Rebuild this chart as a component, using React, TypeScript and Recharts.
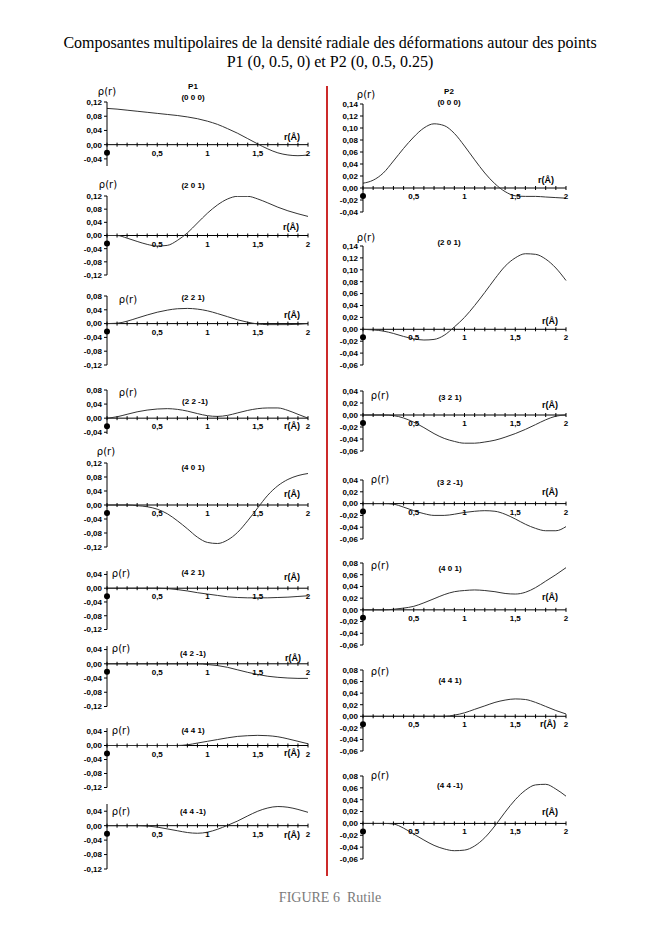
import React from "react";
import { LineChart, Line, XAxis, YAxis, ReferenceLine } from "recharts";

// r in Å, sampled every 0.1
const rValues = [0, 0.1, 0.2, 0.3, 0.4, 0.5, 0.6, 0.7, 0.8, 0.9, 1, 1.1, 1.2, 1.3, 1.4, 1.5, 1.6, 1.7, 1.8, 1.9, 2];
const xTicks = [0, 0.1, 0.2, 0.3, 0.4, 0.5, 0.6, 0.7, 0.8, 0.9, 1, 1.1, 1.2, 1.3, 1.4, 1.5, 1.6, 1.7, 1.8, 1.9, 2];
const xLabels = [0.5, 1, 1.5, 2];

// P1 components
const p1_000 = [0.102, 0.1, 0.097, 0.094, 0.091, 0.088, 0.085, 0.082, 0.078, 0.073, 0.066, 0.057, 0.045, 0.032, 0.017, 0.002, -0.012, -0.023, -0.029, -0.031, -0.029];
const p1_201 = [0, 0, -0.008, -0.018, -0.027, -0.032, -0.03, -0.015, 0.008, 0.038, 0.068, 0.093, 0.111, 0.119, 0.119, 0.111, 0.099, 0.086, 0.075, 0.066, 0.058];
const p1_221 = [0, 0.001, 0.007, 0.016, 0.025, 0.033, 0.039, 0.043, 0.044, 0.042, 0.037, 0.029, 0.02, 0.011, 0.004, -0.001, -0.003, -0.003, -0.003, -0.002, 0];
const p1_22m1 = [0, 0.004, 0.011, 0.018, 0.023, 0.026, 0.027, 0.025, 0.02, 0.013, 0.007, 0.005, 0.008, 0.015, 0.022, 0.027, 0.029, 0.029, 0.022, 0.011, 0];
const p1_401 = [0, 0, 0, -0.002, -0.005, -0.012, -0.025, -0.045, -0.068, -0.092, -0.107, -0.11, -0.1, -0.078, -0.045, -0.008, 0.028, 0.055, 0.073, 0.084, 0.09];
const p1_421 = [0, 0, 0, 0, 0, 0, -0.001, -0.004, -0.008, -0.013, -0.017, -0.021, -0.025, -0.027, -0.028, -0.028, -0.028, -0.027, -0.026, -0.024, -0.022];
const p1_42m1 = [0, 0, 0, 0, 0, 0, 0, 0, 0, 0, -0.002, -0.005, -0.01, -0.017, -0.024, -0.03, -0.035, -0.038, -0.04, -0.041, -0.041];
const p1_441 = [0, 0, 0, 0, 0, 0, 0, 0, 0.002, 0.007, 0.012, 0.017, 0.022, 0.026, 0.028, 0.029, 0.028, 0.025, 0.019, 0.012, 0.005];
const p1_44m1 = [0, 0, 0, 0, -0.001, -0.004, -0.009, -0.014, -0.019, -0.021, -0.018, -0.01, 0.001, 0.013, 0.027, 0.04, 0.049, 0.053, 0.051, 0.045, 0.037];

// P2 components
const p2_000 = [0.008, 0.013, 0.025, 0.045, 0.066, 0.085, 0.1, 0.107, 0.104, 0.091, 0.07, 0.047, 0.025, 0.007, -0.006, -0.013, -0.014, -0.014, -0.015, -0.016, -0.017];
const p2_201 = [0, -0.001, -0.003, -0.007, -0.012, -0.016, -0.018, -0.017, -0.01, 0.004, 0.02, 0.04, 0.062, 0.085, 0.106, 0.12, 0.127, 0.126, 0.118, 0.103, 0.082];
const p2_321 = [0, 0, 0, -0.001, -0.005, -0.012, -0.021, -0.031, -0.039, -0.044, -0.047, -0.047, -0.045, -0.042, -0.037, -0.031, -0.024, -0.016, -0.008, -0.002, 0];
const p2_32m1 = [0, 0, 0, -0.001, -0.006, -0.012, -0.017, -0.02, -0.02, -0.018, -0.015, -0.013, -0.012, -0.013, -0.018, -0.026, -0.035, -0.042, -0.046, -0.046, -0.039];
const p2_401 = [0, 0, 0, 0.001, 0.003, 0.006, 0.012, 0.019, 0.026, 0.031, 0.033, 0.034, 0.033, 0.031, 0.028, 0.027, 0.03, 0.038, 0.049, 0.06, 0.072];
const p2_441 = [0, 0, 0, 0, 0, 0, 0, 0, 0, 0.002, 0.006, 0.012, 0.018, 0.024, 0.028, 0.03, 0.029, 0.024, 0.017, 0.01, 0.004];
const p2_44m1 = [0, 0, 0, -0.001, -0.008, -0.018, -0.028, -0.037, -0.043, -0.046, -0.045, -0.038, -0.024, -0.004, 0.019, 0.04, 0.056, 0.065, 0.066, 0.058, 0.046];

// y tick sets
const ticksL1 = [-0.04, 0, 0.04, 0.08, 0.12];
const ticksL2 = [-0.12, -0.08, -0.04, 0, 0.04, 0.08, 0.12];
const ticksL3 = [-0.12, -0.08, -0.04, 0, 0.04, 0.08];
const ticksL4 = [-0.04, 0, 0.04, 0.08];
const ticksL6 = [-0.12, -0.08, -0.04, 0, 0.04];
const ticksR1 = [-0.04, -0.02, 0, 0.02, 0.04, 0.06, 0.08, 0.1, 0.12, 0.14];
const ticksR2 = [-0.06, -0.04, -0.02, 0, 0.02, 0.04, 0.06, 0.08, 0.1, 0.12, 0.14];
const ticksR3 = [-0.06, -0.04, -0.02, 0, 0.02, 0.04];
const ticksR5 = [-0.06, -0.04, -0.02, 0, 0.02, 0.04, 0.06, 0.08];

type PanelDef = {
  values: number[];
  ticks: number[];
  domain: [number, number];
  ax: number;
  top: number;
  bottom: number;
  plotW: number;
  title: string[];
  titlePos: [number, number];
  rhoPos: [number, number];
  rPos: [number, number];
};

const L = 107;
const R = 363;
const LW = 201;
const RW = 203;

const panels: PanelDef[] = [
  { values: p1_000, ticks: ticksL1, domain: [-0.06, 0.12], ax: L, top: 102, bottom: 166, plotW: LW, title: ["P1", "(0 0 0)"], titlePos: [193, 92], rhoPos: [107, 92], rPos: [292, 137] },
  { values: p1_201, ticks: ticksL2, domain: [-0.12, 0.12], ax: L, top: 196, bottom: 275, plotW: LW, title: ["(2 0 1)"], titlePos: [193, 186], rhoPos: [108, 185], rPos: [291, 227] },
  { values: p1_221, ticks: ticksL3, domain: [-0.12, 0.08], ax: L, top: 296, bottom: 365, plotW: LW, title: ["(2 2 1)"], titlePos: [193, 298], rhoPos: [128, 300], rPos: [292, 315] },
  { values: p1_22m1, ticks: ticksL4, domain: [-0.045, 0.08], ax: L, top: 390, bottom: 434, plotW: LW, title: ["(2 2 -1)"], titlePos: [195, 402], rhoPos: [128, 393], rPos: [292, 426] },
  { values: p1_401, ticks: ticksL2, domain: [-0.12, 0.12], ax: L, top: 463, bottom: 547, plotW: LW, title: ["(4 0 1)"], titlePos: [193, 468], rhoPos: [106, 452], rPos: [292, 494] },
  { values: p1_421, ticks: ticksL6, domain: [-0.12, 0.05], ax: L, top: 570.5, bottom: 629, plotW: LW, title: ["(4 2 1)"], titlePos: [193, 573], rhoPos: [121, 574], rPos: [292, 577] },
  { values: p1_42m1, ticks: ticksL6, domain: [-0.12, 0.05], ax: L, top: 645.5, bottom: 706, plotW: LW, title: ["(4 2 -1)"], titlePos: [193, 654], rhoPos: [121, 649], rPos: [293, 658] },
  { values: p1_441, ticks: ticksL6, domain: [-0.12, 0.05], ax: L, top: 727.5, bottom: 787, plotW: LW, title: ["(4 4 1)"], titlePos: [193, 731], rhoPos: [121, 731], rPos: [292, 753] },
  { values: p1_44m1, ticks: ticksL6, domain: [-0.12, 0.06], ax: L, top: 804, bottom: 869, plotW: LW, title: ["(4 4 -1)"], titlePos: [193, 812], rhoPos: [121, 812], rPos: [292, 835] },
  { values: p2_000, ticks: ticksR1, domain: [-0.04, 0.14], ax: R, top: 104, bottom: 212, plotW: RW, title: ["P2", "(0 0 0)"], titlePos: [449, 97], rhoPos: [366, 95], rPos: [546, 180] },
  { values: p2_201, ticks: ticksR2, domain: [-0.06, 0.14], ax: R, top: 246, bottom: 365, plotW: RW, title: ["(2 0 1)"], titlePos: [449, 243], rhoPos: [366, 238], rPos: [550, 321] },
  { values: p2_321, ticks: ticksR3, domain: [-0.06, 0.04], ax: R, top: 391, bottom: 451, plotW: RW, title: ["(3 2 1)"], titlePos: [450, 398], rhoPos: [380, 396], rPos: [550, 405] },
  { values: p2_32m1, ticks: ticksR3, domain: [-0.06, 0.04], ax: R, top: 480, bottom: 539, plotW: RW, title: ["(3 2 -1)"], titlePos: [450, 483], rhoPos: [380, 480], rPos: [550, 492] },
  { values: p2_401, ticks: ticksR5, domain: [-0.06, 0.08], ax: R, top: 563, bottom: 645, plotW: RW, title: ["(4 0 1)"], titlePos: [450, 569], rhoPos: [380, 566], rPos: [550, 597] },
  { values: p2_441, ticks: ticksR5, domain: [-0.06, 0.08], ax: R, top: 670, bottom: 751, plotW: RW, title: ["(4 4 1)"], titlePos: [450, 681], rhoPos: [380, 672], rPos: [548, 724] },
  { values: p2_44m1, ticks: ticksR5, domain: [-0.06, 0.08], ax: R, top: 776, bottom: 859, plotW: RW, title: ["(4 4 -1)"], titlePos: [450, 786], rhoPos: [380, 776], rPos: [550, 812] },
];

const SANS = "'Liberation Sans', Arial, sans-serif";
const SERIF = "'Liberation Serif', 'Times New Roman', serif";
const M_TOP = 6;
const M_BOT = 6;
const X_H = 10;
const Y_W = 40;
const M_RIGHT = 12;

const fmt = (v: number) => (Math.abs(v) < 1e-9 ? "0,00" : v.toFixed(2).replace(".", ","));

function Text({ x, y, children, style }: { x: number; y: number; children: React.ReactNode; style?: React.CSSProperties }) {
  return (
    <div
      style={{
        position: "absolute",
        left: x,
        top: y,
        transform: "translate(-50%, -50%)",
        whiteSpace: "nowrap",
        lineHeight: 1,
        ...style,
      }}
    >
      {children}
    </div>
  );
}

function Panel({ p }: { p: PanelDef }) {
  const plotH = p.bottom - p.top;
  const [lo, hi] = p.domain;
  const zeroY = M_TOP + (hi / (hi - lo)) * plotH;
  const data = rValues.map((r, i) => ({ r, rho: p.values[i] }));

  const xTick = (props: any) => {
    const { x, payload } = props;
    const v = payload.value;
    return (
      <g>
        <line x1={x} x2={x} y1={zeroY - 2} y2={zeroY + 2} stroke="#000" strokeWidth={1} />
        {v === 0 && <circle cx={x} cy={zeroY + 8} r={3} fill="#000" />}
        {xLabels.includes(v) && (
          <text x={x} y={zeroY + 11} textAnchor="middle" fontSize={8} fontWeight={700} fontFamily={SANS} fill="#000">
            {String(v).replace(".", ",")}
          </text>
        )}
      </g>
    );
  };

  return (
    <div style={{ position: "absolute", left: p.ax - Y_W, top: p.top - M_TOP }}>
      <LineChart
        width={Y_W + p.plotW + M_RIGHT}
        height={M_TOP + plotH + X_H + M_BOT}
        data={data}
        margin={{ top: M_TOP, right: M_RIGHT, bottom: M_BOT, left: 0 }}
      >
        <XAxis
          dataKey="r"
          type="number"
          domain={[0, 2]}
          ticks={xTicks}
          interval={0}
          height={X_H}
          axisLine={false}
          tickLine={false}
          tick={xTick}
        />
        <YAxis
          type="number"
          domain={p.domain}
          ticks={p.ticks}
          interval={0}
          allowDataOverflow
          width={Y_W}
          tickSize={3}
          tickMargin={2}
          axisLine={{ stroke: "#000" }}
          tickLine={{ stroke: "#000" }}
          tick={{ fill: "#000", fontSize: 8, fontWeight: 700, fontFamily: SANS }}
          tickFormatter={fmt}
        />
        <ReferenceLine y={0} stroke="#000" strokeWidth={1} />
        <Line
          type="monotone"
          dataKey="rho"
          stroke="#333"
          strokeWidth={1}
          dot={false}
          isAnimationActive={false}
        />
      </LineChart>
    </div>
  );
}

export default function App() {
  return (
    <div
      style={{
        position: "absolute",
        left: 0,
        top: 0,
        width: 657,
        height: 929,
        background: "#fff",
        overflow: "hidden",
      }}
    >
      <Text x={330} y={43} style={{ fontFamily: SERIF, fontSize: 16, color: "#000" }}>
        Composantes multipolaires de la densité radiale des déformations autour des points
      </Text>
      <Text x={330} y={62} style={{ fontFamily: SERIF, fontSize: 16, color: "#000" }}>
        P1 (0, 0.5, 0) et P2 (0, 0.5, 0.25)
      </Text>

      <div style={{ position: "absolute", left: 326, top: 86, width: 2, height: 790, background: "#cc2a2a" }} />

      {panels.map((p, i) => (
        <React.Fragment key={i}>
          <Panel p={p} />
          <Text x={p.rhoPos[0]} y={p.rhoPos[1]} style={{ fontFamily: "'DejaVu Sans', sans-serif", fontSize: 10, color: "#000" }}>
            ρ(r)
          </Text>
          {p.title.map((t, j) => (
            <Text
              key={j}
              x={p.titlePos[0]}
              y={p.titlePos[1] + (j - (p.title.length - 1) / 2) * 11}
              style={{ fontFamily: SANS, fontSize: 8, fontWeight: 700, color: "#000" }}
            >
              {t}
            </Text>
          ))}
          <Text x={p.rPos[0]} y={p.rPos[1]} style={{ fontFamily: SANS, fontSize: 9, fontWeight: 700, color: "#000" }}>
            r(Å)
          </Text>
        </React.Fragment>
      ))}

      <Text x={330} y={898} style={{ fontFamily: SERIF, fontSize: 14, color: "#7a7a7a" }}>
        FIGURE 6&nbsp;&nbsp;Rutile
      </Text>
    </div>
  );
}
